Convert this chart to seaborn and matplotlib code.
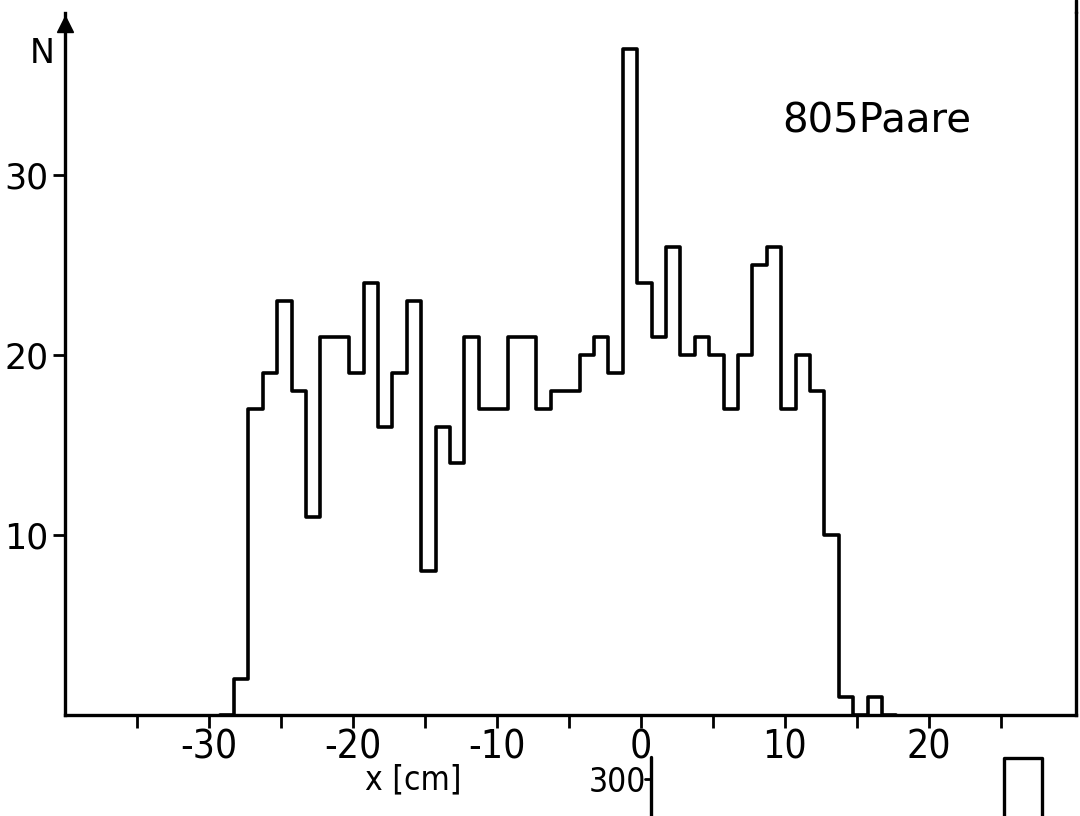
import numpy as np
import pandas as pd
import seaborn as sns
import matplotlib.pyplot as plt
from matplotlib.lines import Line2D

# counts per 1 cm bin, first bin edge at -29.25 cm (805 pairs in total);
# the empty outer bins close the outline down to the axis
first_edge = -29.25
bin_width = 1.0
counts = [0, 2, 17, 19, 23, 18, 11, 21, 21, 19, 24,
          16, 19, 23, 8, 16, 14, 21, 17, 17, 21,
          21, 17, 18, 18, 20, 21, 19, 37, 24, 21,
          26, 20, 21, 20, 17, 20, 25, 26, 17, 20,
          18, 10, 1, 0, 1, 0]
x_ticks = [-35, -30, -25, -20, -15, -10, -5, 0, 5, 10, 15, 20, 25]
x_ticklabels = ['', '-30', '', '-20', '', '-10', '', '0', '', '10', '', '20', '']
y_ticks = [10, 20, 30]
label_text = '805Paare'

last_edge = first_edge + bin_width * len(counts)
centers = first_edge + bin_width * (np.arange(len(counts)) + 0.5)
df = pd.DataFrame({'x': centers, 'n': counts})

sns.set_style("white")
plt.rcParams['font.family'] = ['DejaVu Sans']
for k in ['text.color', 'axes.labelcolor', 'xtick.color', 'ytick.color']:
    plt.rcParams[k] = 'black'
narrow = dict(family='DejaVu Sans', stretch='condensed')

fig = plt.figure(figsize=(10.8, 8.16), dpi=100)
ax = fig.add_axes([0.060, 0.124, 0.936, 0.86])
sns.histplot(data=df, x='x', weights='n', binwidth=bin_width,
             binrange=(first_edge, last_edge), element='step',
             fill=False, color='black', linewidth=2.6, ax=ax)
ax.set_xlim(-40, 30.2)
ax.set_ylim(0, 39)
ax.set_xlabel('')
ax.set_ylabel('')

for s in ['left', 'bottom', 'right']:
    ax.spines[s].set_visible(True)
    ax.spines[s].set_color('black')
    ax.spines[s].set_linewidth(2.4)
ax.spines['top'].set_visible(False)

ax.set_xticks(x_ticks)
ax.set_xticklabels(x_ticklabels, fontsize=28, **narrow)
ax.set_yticks(y_ticks)
ax.set_yticklabels([str(v) for v in y_ticks], fontsize=25)
ax.tick_params(axis='both', direction='out', length=9, width=2,
               color='black', pad=3, bottom=True, left=True)
ax.tick_params(axis='x', pad=1)

# arrow head on top of the N axis
ax.plot(0, 0.985, marker='^', color='black', markersize=11,
        transform=ax.transAxes, clip_on=False)

ax.text(9.8, 33.0, label_text, fontsize=29, ha='left', va='center')

fig.text(0.039, 0.935, 'N', fontsize=24, ha='center', va='center')
fig.text(0.383, 0.044, 'x [cm]', fontsize=24, ha='center', va='center',
         **narrow)

# fragments of the neighbouring plots cut by the scan
fig.text(0.572, 0.041, '300', fontsize=24, ha='center', va='center',
         **narrow)
fig.add_artist(Line2D([0.603, 0.603], [0.0, 0.072], color='black', lw=2.4))
fig.add_artist(Line2D([0.597, 0.603], [0.045, 0.045], color='black', lw=2))
fig.add_artist(Line2D([0.930, 0.930, 0.965, 0.965], [0.0, 0.071, 0.071, 0.0],
                      color='black', lw=2.4))
fig.add_artist(Line2D([0.996, 0.996], [0.984, 1.0], color='black', lw=2.4))

fig.savefig('out.png', dpi=100, facecolor='white')
